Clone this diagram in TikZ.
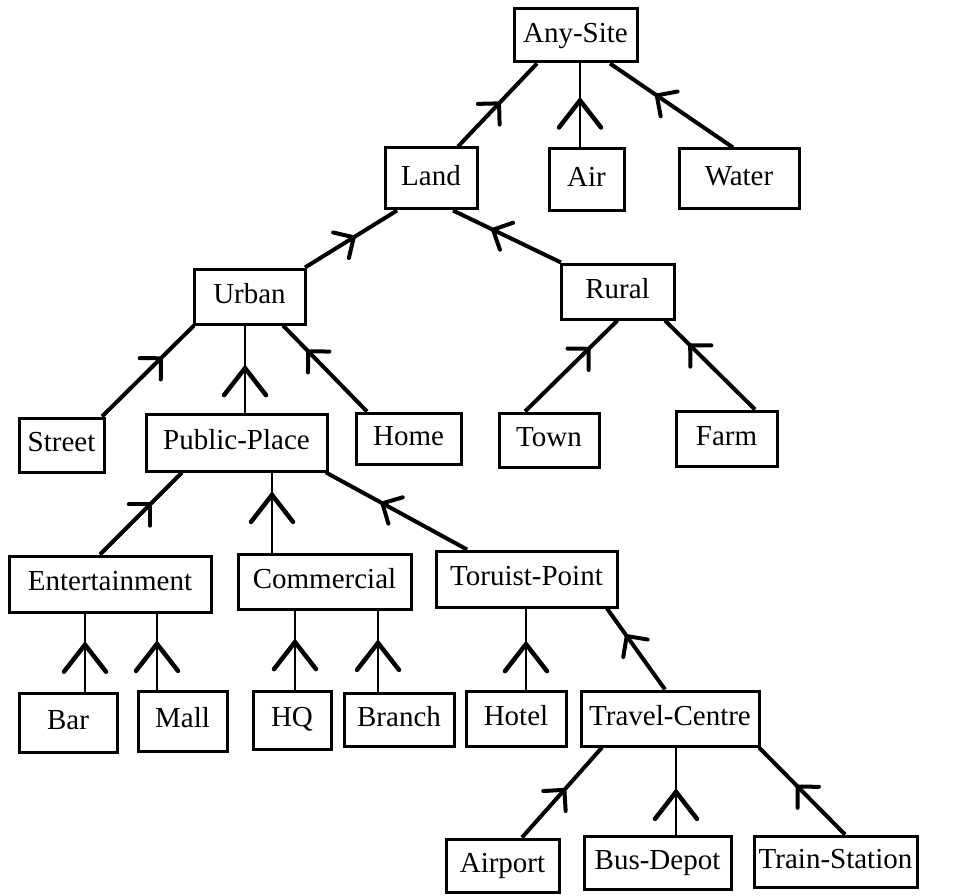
\documentclass[tikz,border=0pt]{standalone}
\usepackage{fontspec}
\setmainfont{Liberation Serif}
\usetikzlibrary{decorations.markings}
\begin{document}
\begin{tikzpicture}[x=1pt,y=-1pt,
  box/.style={draw, line width=3pt, inner sep=0pt, minimum height=57pt,
    text height=19.5pt, text depth=6pt,
    font=\fontsize{29}{34}\selectfont},
  link/.style={line width=4pt},
  vlink/.style={line width=2.8pt},
  % open chevron on a slanted link, pointing towards the parent
  isa/.style={link, decoration={markings, mark=at position #1 with
    {\draw[line width=4pt, line cap=round] (-15pt,15pt) -- (0pt,0pt) -- (-15pt,-15pt);}},
    postaction={decorate}},
  % open chevron on a vertical link
  isav/.style={vlink, decoration={markings, mark=at position #1 with
    {\draw[line width=4.5pt, line cap=round] (-27pt,21pt) -- (0pt,0pt) -- (-27pt,-21pt);}},
    postaction={decorate}}
]
\fill[white] (0,0) rectangle (969,896);
\useasboundingbox (0,0) rectangle (969,896);

% ---- nodes ----
\node[box, minimum width=123pt, minimum height=53pt] (anysite) at (575.5,35.5) {Any-Site};
\node[box, minimum width=92pt, minimum height=61pt] (land) at (431,178.5) {Land};
\node[box, minimum width=75pt, minimum height=62pt] (air) at (586.5,180) {Air};
\node[box, minimum width=120pt, minimum height=60pt] (water) at (739,179) {Water};

\node[box, minimum width=111pt, minimum height=55pt] (urban) at (249.5,296.5) {Urban};
\node[box, minimum width=113pt, minimum height=55pt] (rural) at (617.5,291.5) {Rural};

\node[box, minimum width=85pt, minimum height=54pt] (street) at (61.5,445) {Street};
\node[box, minimum width=181pt, minimum height=57pt] (public) at (236.5,442.5) {Public-Place};
\node[box, minimum width=105pt, minimum height=51pt] (home) at (408.5,438.5) {Home};
\node[box, minimum width=100pt, minimum height=54pt] (town) at (549,440) {Town};
\node[box, minimum width=101pt, minimum height=55pt] (farm) at (726.5,438.5) {Farm};

\node[box, minimum width=202pt, minimum height=56pt] (ent) at (110,584) {Entertainment};
\node[box, minimum width=173pt, minimum height=55pt] (comm) at (324.5,581.5) {Commercial};
\node[box, minimum width=181pt, minimum height=56pt] (tour) at (526.5,579) {Toruist-Point};

\node[box, minimum width=98pt, minimum height=59pt] (bar) at (68,722.5) {Bar};
\node[box, minimum width=89pt, minimum height=60pt] (mall) at (182.5,721) {Mall};
\node[box, minimum width=78pt, minimum height=58pt] (hq) at (292,720) {HQ};
\node[box, minimum width=110pt, minimum height=53pt] (branch) at (399,719.5) {Branch};
\node[box, minimum width=100pt, minimum height=55pt] (hotel) at (516,718.5) {Hotel};
\node[box, minimum width=178pt, minimum height=55pt] (travel) at (670,718.5) {Travel-Centre};

\node[box, minimum width=113pt, minimum height=53pt] (airport) at (502.5,865.5) {Airport};
\node[box, minimum width=147pt, minimum height=53pt] (busdepot) at (657.5,862.5) {Bus-Depot};
\node[box, minimum width=163pt, minimum height=51pt] (train) at (835.5,861.5) {Train-Station};

% ---- links (child -> parent) ----
\draw[isa=0.52] ([xshift=27pt]land.north) -- ([xshift=-38.5pt]anysite.south);
\draw[isav=0.56] ([xshift=-6.5pt]air.north) -- ([xshift=4.5pt]anysite.south);
\draw[isa=0.62] ([xshift=-6pt]water.north) -- ([xshift=34.5pt]anysite.south);

\draw[isa=0.53] ([xshift=55.5pt]urban.north) -- ([xshift=-34pt]land.south);
\draw[isa=0.63] ([xshift=-56.5pt]rural.north) -- ([xshift=22pt]land.south);

\draw[isa=0.64] ([xshift=40.5pt]street.north) -- ([xshift=-55.5pt]urban.south);
\draw[isav=0.51] ([xshift=8.5pt]public.north) -- ([xshift=-4.5pt]urban.south);
\draw[isa=0.70] ([xshift=-41.5pt]home.north) -- ([xshift=33.5pt]urban.south);

\draw[isa=0.69] ([xshift=-24pt]town.north) -- ([xshift=0pt]rural.south);
\draw[isa=0.72] ([xshift=28.5pt]farm.north) -- ([xshift=47.5pt]rural.south);

\draw[isa=0.61] ([xshift=-10pt]ent.north) -- ([xshift=-54.5pt]public.south);
\draw[isav=0.72] ([xshift=-52.5pt]comm.north) -- ([xshift=35.5pt]public.south);
\draw[isa=0.60] ([xshift=-59.5pt]tour.north) -- ([xshift=89.5pt]public.south);

\draw[isav=0.60] ([xshift=17pt]bar.north) -- ([xshift=-25pt]ent.south);
\draw[isav=0.60] ([xshift=-25.5pt]mall.north) -- ([xshift=47pt]ent.south);
\draw[isav=0.60] ([xshift=3pt]hq.north) -- ([xshift=-29.5pt]comm.south);
\draw[isav=0.60] ([xshift=-21pt]branch.north) -- ([xshift=53.5pt]comm.south);
\draw[isav=0.56] ([xshift=10pt]hotel.north) -- ([xshift=-0.5pt]tour.south);
\draw[isa=0.66] ([xshift=-5pt]travel.north) -- ([xshift=80.5pt]tour.south);

\draw[isa=0.53] ([xshift=19.5pt]airport.north) -- ([xshift=-68pt]travel.south);
\draw[isav=0.49] ([xshift=18.5pt]busdepot.north) -- ([xshift=6pt]travel.south);
\draw[isa=0.55] ([xshift=9.5pt]train.north) -- ([xshift=89pt]travel.south);
\end{tikzpicture}
\end{document}
